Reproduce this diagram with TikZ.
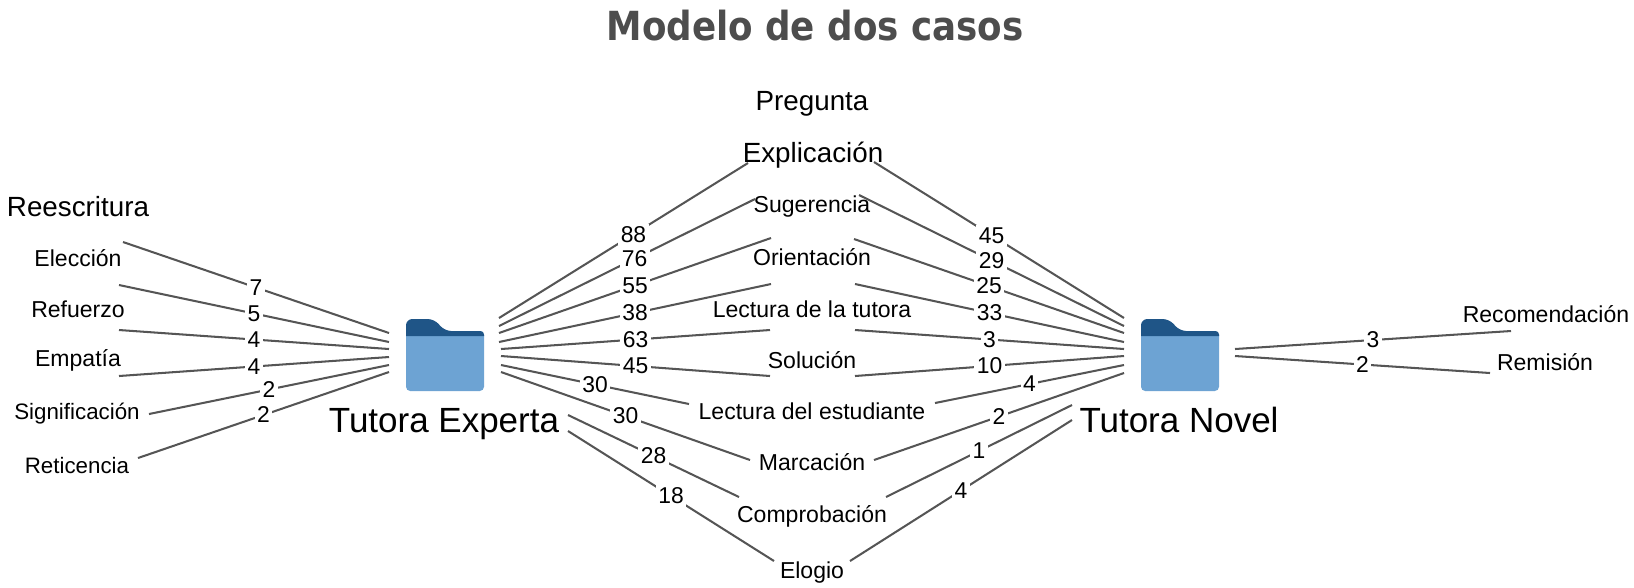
\documentclass[tikz,border=0pt]{standalone}
\usepackage{fontspec}
\setmainfont{Liberation Sans}
\newfontfamily\titlefont[FakeStretch=.89]{DejaVu Sans}
\definecolor{folderdark}{HTML}{1F5587}
\definecolor{folderlight}{HTML}{6DA3D3}
\definecolor{linegray}{HTML}{555555}
\definecolor{titlegray}{HTML}{4D4D4D}
\tikzset{
  code/.style={inner sep=0pt,font=\fontsize{6.55}{8}\selectfont},
  smallcode/.style={inner sep=0pt,font=\fontsize{6.35}{8}\selectfont},
  bigcode/.style={inner sep=0pt,font=\fontsize{7.9}{9}\selectfont},
  actor/.style={inner sep=0pt,font=\fontsize{9.95}{12}\selectfont},
  cnt/.style={fill=white,inner sep=.7pt,font=\fontsize{6.5}{8}\selectfont},
  link/.style={draw=linegray,line width=.58pt},
  folder/.pic={
    \fill[folderlight,rounded corners=1.2pt] (0,12) -- (0,72) -- (78,72) -- (78,12) -- cycle;
    \fill[folderdark] (0,17) [rounded corners=1.8pt] -- (0,0) -- (28,0) -- (39,12) [rounded corners=1pt] -- (78,12) [sharp corners] -- (78,17) -- cycle;
  }
}
\begin{document}
\begin{tikzpicture}[x=.01cm,y=-.01cm]
  \useasboundingbox (0,0) rectangle (1634,587);
  \node[inner sep=0pt,text=titlegray,font=\titlefont\bfseries\fontsize{11.4}{14}\selectfont] (titulo) at (815,26){Modelo de dos casos};
  % carpetas
  \pic at (406,319) {folder};
  \pic at (1141,319) {folder};
  \node[actor] (experta) at (444,424){Tutora Experta};
  \node[actor] (novel) at (1179,420){Tutora Novel};
  % codigos izquierda
  \node[bigcode] (reesc) at (78,207){Reescritura};
  \node[code] (elecc) at (78,258){Elección};
  \node[code] (refue) at (78,309){Refuerzo};
  \node[code] (empat) at (78,360){Empatía};
  \node[smallcode] (signi) at (77,414){Significación};
  \node[smallcode] (retic) at (77,465){Reticencia};
  % codigos centro
  \node[bigcode] (pregu) at (812,104){Pregunta};
  \node[bigcode] (expli) at (813,155){Explicación};
  \node[code] (suger) at (812,207){Sugerencia};
  \node[code] (orien) at (812,257){Orientación};
  \node[code] (lectu) at (812,309){Lectura de la tutora};
  \node[code] (soluc) at (812,360){Solución};
  \node[code] (leces) at (812,411){Lectura del estudiante};
  \node[code] (marca) at (812,462){Marcación};
  \node[code] (compr) at (812,516){Comprobación};
  \node[code] (elogi) at (812,573){Elogio};
  % codigos derecha
  \node[code] (recom) at (1546,314){Recomendación};
  \node[code] (remis) at (1545,362){Remisión};
  % extremos izquierda
  \coordinate (ea1) at (389,333); \coordinate (ea2) at (389,342);
  \coordinate (ea3) at (389,349); \coordinate (ea4) at (389,357);
  \coordinate (ea5) at (389,365); \coordinate (ea6) at (389,372);
  \coordinate (la1) at (123,242); \coordinate (la2) at (119,285);
  \coordinate (la3) at (119,330); \coordinate (la4) at (119,376);
  \coordinate (la5) at (149,414); \coordinate (la6) at (138,458);
  \draw[link] (la1) -- node[cnt]{7} (ea1);
  \draw[link] (la2) -- node[cnt]{5} (ea2);
  \draw[link] (la3) -- node[cnt]{4} (ea3);
  \draw[link] (la4) -- node[cnt]{4} (ea4);
  \draw[link] (la5) -- node[cnt]{2} (ea5);
  \draw[link] (la6) -- node[cnt]{2} (ea6);
  % extremos experta
  \coordinate (eb1) at (499,318); \coordinate (eb2) at (499,326);
  \coordinate (eb3) at (499,333); \coordinate (eb4) at (499,342);
  \coordinate (eb5) at (501,349); \coordinate (eb6) at (501,356);
  \coordinate (eb7) at (501,365); \coordinate (eb8) at (501,372);
  \coordinate (eb9) at (568,415); \coordinate (eb10) at (568,431);
  % extremos novel
  \coordinate (nb1) at (1124,318); \coordinate (nb2) at (1124,326);
  \coordinate (nb3) at (1124,333); \coordinate (nb4) at (1124,342);
  \coordinate (nb5) at (1124,349); \coordinate (nb6) at (1124,356);
  \coordinate (nb7) at (1124,365); \coordinate (nb8) at (1124,373);
  \coordinate (nb9) at (1072,405); \coordinate (nb10) at (1072,420);
  % extremos centro, lado experta
  \coordinate (ca1) at (748,163); \coordinate (ca2) at (755,199);
  \coordinate (ca3) at (771,238); \coordinate (ca4) at (771,284);
  \coordinate (ca5) at (770,330); \coordinate (ca6) at (770,376);
  \coordinate (ca7) at (689,404); \coordinate (ca8) at (750,460);
  \coordinate (ca9) at (739,497); \coordinate (ca10) at (774,561);
  % extremos centro, lado novel
  \coordinate (cb1) at (874,162); \coordinate (cb2) at (859,195);
  \coordinate (cb3) at (854,239); \coordinate (cb4) at (855,284);
  \coordinate (cb5) at (855,330); \coordinate (cb6) at (855,376);
  \coordinate (cb7) at (935,403); \coordinate (cb8) at (874,460);
  \coordinate (cb9) at (886,497); \coordinate (cb10) at (850,561);
  \draw[link] (eb1) -- node[cnt,pos=.54]{88} (ca1);
  \draw[link] (eb2) -- node[cnt,pos=.53]{76} (ca2);
  \draw[link] (eb3) -- node[cnt]{55} (ca3);
  \draw[link] (eb4) -- node[cnt]{38} (ca4);
  \draw[link] (eb5) -- node[cnt]{63} (ca5);
  \draw[link] (eb6) -- node[cnt]{45} (ca6);
  \draw[link] (eb7) -- node[cnt]{30} (ca7);
  \draw[link] (eb8) -- node[cnt]{30} (ca8);
  \draw[link] (eb9) -- node[cnt]{28} (ca9);
  \draw[link] (eb10) -- node[cnt]{18} (ca10);
  \draw[link] (nb1) -- node[cnt,pos=.53]{45} (cb1);
  \draw[link] (nb2) -- node[cnt]{29} (cb2);
  \draw[link] (nb3) -- node[cnt]{25} (cb3);
  \draw[link] (nb4) -- node[cnt]{33} (cb4);
  \draw[link] (nb5) -- node[cnt]{3} (cb5);
  \draw[link] (nb6) -- node[cnt]{10} (cb6);
  \draw[link] (nb7) -- node[cnt]{4} (cb7);
  \draw[link] (nb8) -- node[cnt]{2} (cb8);
  \draw[link] (nb9) -- node[cnt]{1} (cb9);
  \draw[link] (nb10) -- node[cnt]{4} (cb10);
  % extremos derecha
  \coordinate (nc1) at (1235,349); \coordinate (nc2) at (1235,356);
  \coordinate (ra1) at (1511,331); \coordinate (ra2) at (1490,373);
  \draw[link] (nc1) -- node[cnt]{3} (ra1);
  \draw[link] (nc2) -- node[cnt]{2} (ra2);
\end{tikzpicture}
\end{document}
